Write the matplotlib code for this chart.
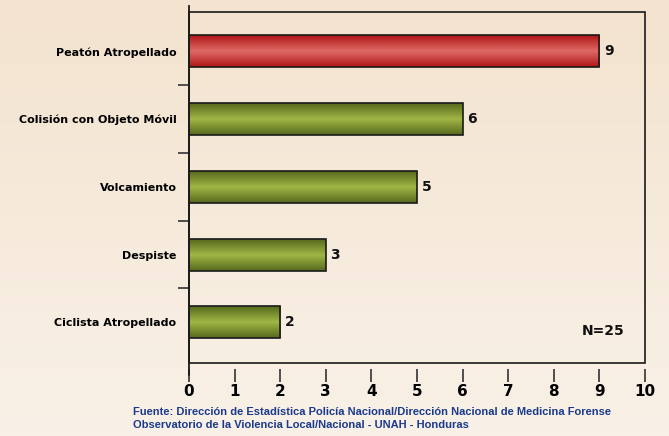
"""Bar chart: tipos de accidente (Peatón atropellado, colisión, ...)."""

import matplotlib
matplotlib.use("Agg")
import matplotlib.pyplot as plt
import numpy as np
from matplotlib.colors import LinearSegmentedColormap
from matplotlib.lines import Line2D
from matplotlib.patches import Rectangle

categories = [
    "Ciclista Atropellado",
    "Despiste",
    "Volcamiento",
    "Colisión con Objeto Móvil",
    "Peatón Atropellado",
]
values = [2, 3, 5, 6, 9]
highlight = "Peatón Atropellado"
x_ticks = list(range(0, 11))
note = "N=25"
source_lines = [
    "Fuente: Dirección de Estadística Policía Nacional/Dirección Nacional de Medicina Forense",
    "Observatorio de la Violencia Local/Nacional - UNAH - Honduras",
]

W, H = 669, 436
fig = plt.figure(figsize=(W / 100, H / 100), dpi=100)

# background gradient
bg = fig.add_axes([0, 0, 1, 1])
bg_cmap = LinearSegmentedColormap.from_list("bg", ["#F3E3CF", "#F9F1E7"])
bg.imshow(np.linspace(0, 1, 256).reshape(-1, 1), aspect="auto", cmap=bg_cmap,
          extent=[0, 1, 0, 1])
bg.set_axis_off()

left, right, top, bottom = 189, 645, 12, 363
ax = fig.add_axes([left / W, 1 - bottom / H, (right - left) / W, (bottom - top) / H])
ax.patch.set_alpha(0)

green = LinearSegmentedColormap.from_list("g", ["#56681C", "#A0B645", "#56681C"])
red = LinearSegmentedColormap.from_list("r", ["#AE1616", "#E06A66", "#AE1616"])
grad = np.linspace(0, 1, 128).reshape(-1, 1)

ypos = np.arange(len(categories))
bar_h = 0.47
bars = ax.barh(ypos, values, height=bar_h, color="none", edgecolor="#1a1a1a",
               linewidth=1.2, zorder=3)
for cat, y, v, bar in zip(categories, ypos, values, bars):
    cmap = red if cat == highlight else green
    im = ax.imshow(grad, aspect="auto", cmap=cmap, interpolation="bilinear",
                   extent=[0, v, y - bar_h / 2, y + bar_h / 2], zorder=2)
    im.set_clip_path(bar)
    ax.text(v + 0.1, y, str(v), va="center", ha="left", fontsize=10,
            fontweight="bold", color="#111111")

ax.set_xlim(0, 10)
ax.set_ylim(-0.6, 4.58)

# box frame
for s in ax.spines.values():
    s.set_visible(False)
ax.add_patch(Rectangle((0, 0), 1, 1, transform=ax.transAxes, fill=False,
                       edgecolor="#1a1a1a", linewidth=1.2, zorder=4, clip_on=False))
# long left axis line
ax.add_line(Line2D([0, 0], [-12 / (bottom - top), 1 + 6 / (bottom - top)],
                   transform=ax.transAxes, color="#1a1a1a", linewidth=1.3,
                   clip_on=False, zorder=5))

ax.spines["bottom"].set_position(("outward", 4))
ax.set_xticks(x_ticks)
ax.set_xticklabels([str(t) for t in x_ticks], fontsize=11, fontweight="bold")
ax.tick_params(axis="x", length=9, width=1.2, color="#333333", pad=2)

ax.set_yticks(ypos)
ax.set_yticklabels(categories, fontsize=8, fontweight="bold")
ax.tick_params(axis="y", length=0, pad=9)
ax.set_yticks(ypos[:-1] + 0.5, minor=True)
ax.tick_params(axis="y", which="minor", length=8, width=1.2, color="#333333")

ax.text(0.955, 0.09, note, transform=ax.transAxes, ha="right", va="center",
        fontsize=10, fontweight="bold", color="#111111")

for i, line in enumerate(source_lines):
    fig.text(133 / W, 1 - (412 + i * 12.5) / H, line, ha="left", va="center",
             fontsize=8, fontweight="bold", color="#1B3A8C",
             family="Liberation Sans")

fig.savefig("out.png", dpi=100)
